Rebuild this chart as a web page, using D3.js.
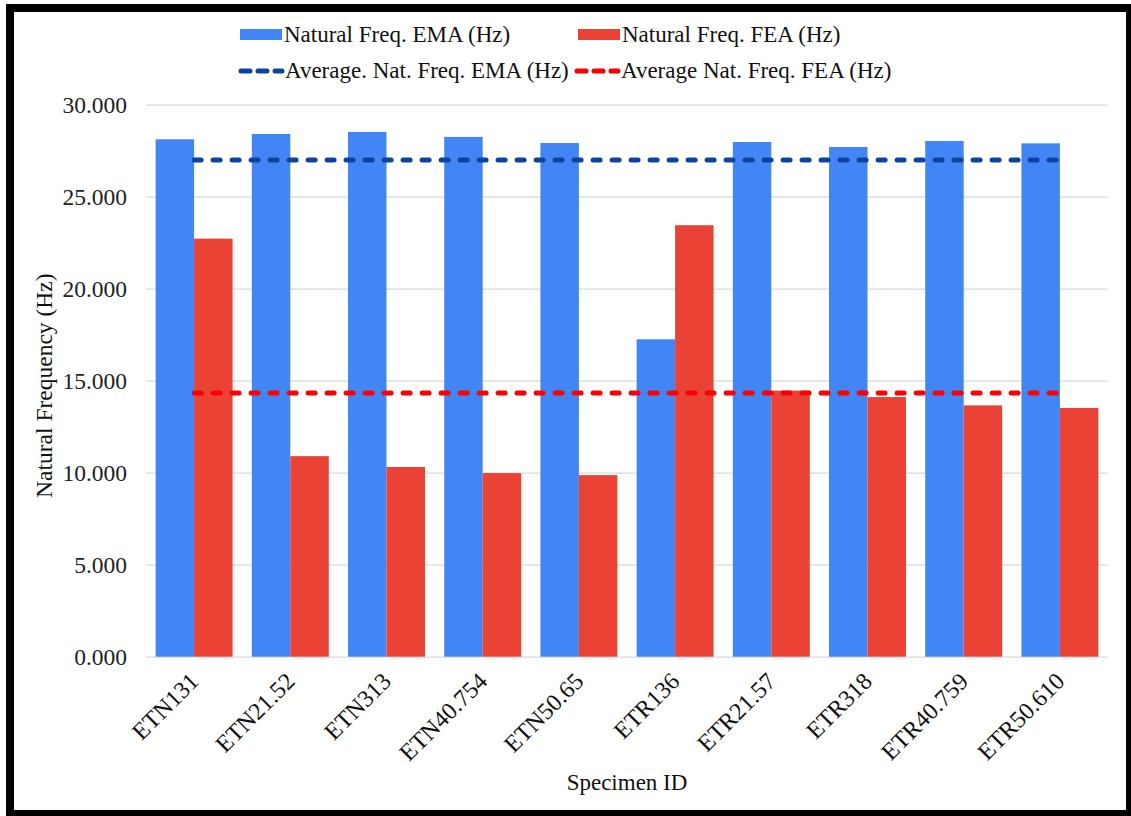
<!DOCTYPE html>
<html>
<head>
<meta charset="utf-8">
<script src="https://cdn.jsdelivr.net/npm/d3@7"></script>
<style>
  html, body { margin: 0; padding: 0; background: #fff; }
</style>
</head>
<body>
<svg id="chart" width="1131" height="816"></svg>
<script>
// Specimens and measured / simulated natural frequencies (Hz)
const specimens = ["ETN131", "ETN21.52", "ETN313", "ETN40.754", "ETN50.65",
                   "ETR136", "ETR21.57", "ETR318", "ETR40.759", "ETR50.610"];
const emaFreq = [28.12, 28.41, 28.52, 28.25, 27.92, 17.25, 27.97, 27.70, 28.03, 27.90];
const feaFreq = [22.72, 10.90, 10.31, 9.98, 9.87, 23.45, 14.46, 14.11, 13.66, 13.52];
const avgEma = [27.00];
const avgFea = [14.33];
const yTicks = [0, 5, 10, 15, 20, 25, 30];
const seriesNames = ["Natural Freq. EMA (Hz)", "Natural Freq. FEA (Hz)"];
const avgNames = ["Average. Nat. Freq. EMA (Hz)", "Average Nat. Freq. FEA (Hz)"];

const colors = { ema: "#4285F4", fea: "#EA4335", avgEma: "#0B43A0", avgFea: "#FF0000" };
const FONT = "'Liberation Serif'";

const svg = d3.select("#chart");
const W = 1131, H = 816;
const plot = { left: 146, right: 1108, top: 104.7, bottom: 656.7 };

// Frame
svg.append("rect")
  .attr("x", 10).attr("y", 8)
  .attr("width", W - 10 - 1).attr("height", H - 8 - 2)
  .attr("fill", "#fff").attr("stroke", "#000").attr("stroke-width", 8);

const x = d3.scaleBand().domain(specimens)
  .range([plot.left, plot.right]).paddingInner(0.2).paddingOuter(0.1);
const x1 = d3.scaleBand().domain(["ema", "fea"]).range([0, x.bandwidth()]);
const y = d3.scaleLinear().domain([0, 30]).range([plot.bottom, plot.top]);

// Gridlines and y tick labels
const yAxis = d3.axisLeft(y).tickValues(yTicks)
  .tickSize(-(plot.right - plot.left)).tickPadding(19)
  .tickFormat(d3.format(".3f"));
const gy = svg.append("g").attr("transform", `translate(${plot.left},0)`).call(yAxis);
gy.select(".domain").remove();
gy.selectAll(".tick line").attr("stroke", "#d9d9d9").attr("stroke-width", 1.3);
gy.selectAll(".tick text").attr("fill", "#222")
  .style("font-family", FONT).style("font-size", "23.5px");

// Bars
const groups = svg.append("g").selectAll("g").data(specimens).join("g")
  .attr("transform", d => `translate(${x(d)},0)`);
groups.append("rect")
  .attr("x", x1("ema")).attr("width", x1.bandwidth())
  .attr("y", (d, i) => y(emaFreq[i]))
  .attr("height", (d, i) => y(0) - y(emaFreq[i]))
  .attr("fill", colors.ema);
groups.append("rect")
  .attr("x", x1("fea")).attr("width", x1.bandwidth())
  .attr("y", (d, i) => y(feaFreq[i]))
  .attr("height", (d, i) => y(0) - y(feaFreq[i]))
  .attr("fill", colors.fea);

// Average lines spanning first to last category centre
const xc = d => x(d) + x.bandwidth() / 2;
const avgLine = (val, col) => svg.append("line")
  .attr("x1", xc(specimens[0])).attr("x2", xc(specimens[specimens.length - 1]))
  .attr("y1", y(val)).attr("y2", y(val))
  .attr("stroke", col).attr("stroke-width", 5)
  .attr("stroke-dasharray", "7 12").attr("stroke-linecap", "round");
avgLine(avgEma[0], colors.avgEma);
avgLine(avgFea[0], colors.avgFea);

// X axis labels
const xAxis = d3.axisBottom(x).tickSize(0).tickPadding(0);
const gx = svg.append("g").attr("transform", `translate(0,${plot.bottom})`).call(xAxis);
gx.select(".domain").remove();
gx.selectAll(".tick text")
  .attr("text-anchor", "end")
  .attr("dy", "0")
  .attr("transform", "translate(6,26) rotate(-45)")
  .attr("fill", "#111")
  .style("font-family", FONT).style("font-size", "24px");

// Axis titles
svg.append("text").attr("x", 627).attr("y", 790).attr("text-anchor", "middle")
  .style("font-family", FONT).style("font-size", "23px").attr("fill", "#111").text("Specimen ID");
svg.append("text")
  .attr("transform", `translate(52,${(plot.top + plot.bottom) / 2 + 5}) rotate(-90)`)
  .attr("text-anchor", "middle")
  .style("font-family", FONT).style("font-size", "23.5px").attr("fill", "#111")
  .text("Natural Frequency (Hz)");

// Legend
const legend = svg.append("g").attr("fill", "#111");
const row1 = [{ x: 240, name: seriesNames[0], c: colors.ema }, { x: 578, name: seriesNames[1], c: colors.fea }];
row1.forEach(r => {
  legend.append("rect").attr("x", r.x).attr("y", 29).attr("width", 42).attr("height", 11).attr("fill", r.c);
  legend.append("text").attr("x", r.x + 44).attr("y", 42)
    .style("font-family", FONT).style("font-size", "23px").text(r.name);
});
const row2 = [{ x: 238, name: avgNames[0], c: colors.avgEma }, { x: 574, name: avgNames[1], c: colors.avgFea }];
row2.forEach(r => {
  legend.append("line").attr("x1", r.x + 3).attr("x2", r.x + 44).attr("y1", 71).attr("y2", 71)
    .attr("stroke", r.c).attr("stroke-width", 5)
    .attr("stroke-dasharray", "9 8").attr("stroke-linecap", "round");
  legend.append("text").attr("x", r.x + 47).attr("y", 78)
    .style("font-family", FONT).style("font-size", "23px").text(r.name);
});
</script>
</body>
</html>
